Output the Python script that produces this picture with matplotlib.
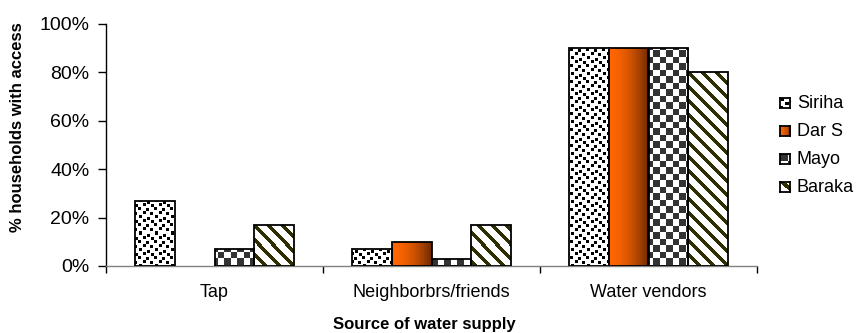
import numpy as np
import matplotlib
matplotlib.use("Agg")
import matplotlib.pyplot as plt
from matplotlib.colors import to_rgb

# ---- data -------------------------------------------------------------
categories = ["Tap", "Neighborbrs/friends", "Water vendors"]
series_names = ["Siriha", "Dar S", "Mayo", "Baraka"]
siriha = [27, 7, 90]
dar_s = [0, 10, 90]
mayo = [7, 3, 90]
baraka = [17, 17, 80]
y_ticks = [0, 20, 40, 60, 80, 100]
y_tick_labels = ["0%", "20%", "40%", "60%", "80%", "100%"]

values = [siriha, dar_s, mayo, baraka]

# ---- figure geometry --------------------------------------------------
W, H = 856, 333
AX_L, AX_R, AX_T, AX_B = 106, 757, 24, 266
fig = plt.figure(figsize=(W / 100, H / 100), dpi=100)
ax = fig.add_axes([AX_L / W, (H - AX_B) / H, (AX_R - AX_L) / W, (AX_B - AX_T) / H])

plt.rcParams["font.family"] = ["Liberation Sans", "DejaVu Sans"]
FONT = "Liberation Sans"
FS = 13

XMIN, XMAX = -0.5, len(categories) - 0.5
YMIN, YMAX = 0, 100
PX_X = (AX_R - AX_L) / (XMAX - XMIN)
PX_Y = (AX_B - AX_T) / (YMAX - YMIN)

WHITE = np.array([1.0, 1.0, 1.0])
BLACK = np.array([0.0, 0.0, 0.0])
DARK_GREY = np.array(to_rgb("#333333"))
OLIVE = np.array(to_rgb("#2e2e00"))
ORANGE = np.array(to_rgb("#ff6600"))
BROWN = np.array(to_rgb("#6e2a00"))

# confetti tile: top-left corners of 3x3 dots in a 16x16 cell
CONFETTI = [(0, 1), (2, 9), (4, 5), (5, 13), (8, 0), (9, 8), (12, 5), (13, 12)]


# ---- fill textures (rows, cols are pixel grids) -----------------------
def tex_dots(rows, cols):
    tile = np.zeros((16, 16), dtype=bool)
    for r, c in CONFETTI:
        for dr in range(3):
            for dc in range(3):
                tile[(r + dr) % 16, (c + dc) % 16] = True
    mask = tile[rows % 16, cols % 16]
    return np.where(mask[..., None], BLACK, WHITE)


def tex_gradient(rows, cols):
    c0, c1 = cols.min(), cols.max()
    t = (cols - c0) / max(c1 - c0, 1)
    t = np.clip(t, 0, 1) ** 1.8
    return ORANGE * (1 - t[..., None]) + BROWN * t[..., None]


def tex_checker(rows, cols):
    size = 6.5
    mask = ((np.floor(rows / size) + np.floor(cols / size)) % 2) == 0
    return np.where(mask[..., None], DARK_GREY, WHITE)


def tex_stripes(rows, cols):
    mask = ((cols - rows) % 14) < 5
    return np.where(mask[..., None], OLIVE, WHITE)


textures = [tex_dots, tex_gradient, tex_checker, tex_stripes]

# ---- bars -------------------------------------------------------------
x = np.arange(len(categories))
bar_w = 0.184
offsets = (np.arange(len(series_names)) - (len(series_names) - 1) / 2) * bar_w

for vals, off, tex, name in zip(values, offsets, textures, series_names):
    bars = ax.bar(x + off, vals, width=bar_w, facecolor="none",
                  edgecolor="black", linewidth=1.3, zorder=3, label=name)
    for rect, v in zip(bars, vals):
        if v <= 0:
            rect.set_linewidth(0)
            continue
        x0, w, h = rect.get_x(), rect.get_width(), rect.get_height()
        col0 = int(round((x0 - XMIN) * PX_X))
        ncol = max(int(round(w * PX_X)), 1)
        row0 = int(round((YMAX - h) * PX_Y))
        nrow = max(int(round(h * PX_Y)), 1)
        rr, cc = np.meshgrid(np.arange(row0, row0 + nrow),
                             np.arange(col0, col0 + ncol), indexing="ij")
        img = tex(rr, cc)
        im = ax.imshow(img, extent=(x0, x0 + w, 0, h), origin="upper",
                       aspect="auto", interpolation="nearest", zorder=2)
        im.set_clip_path(rect)

ax.set_xlim(XMIN, XMAX)
ax.set_ylim(YMIN, YMAX)

# ---- axes styling -----------------------------------------------------
for s in ["top", "right"]:
    ax.spines[s].set_visible(False)
ax.spines["left"].set_color("black")
ax.spines["left"].set_linewidth(1.0)
ax.spines["bottom"].set_color("#808080")
ax.spines["bottom"].set_linewidth(1.0)

ax.set_yticks(y_ticks)
ax.set_yticklabels(y_tick_labels, fontsize=14, fontfamily=FONT)
ax.tick_params(axis="y", direction="out", length=6, width=1.0,
               color="black", pad=6)

ax.set_xticks(x)
ax.set_xticklabels(categories, fontsize=FS, fontfamily=FONT)
ax.set_xticks(np.arange(XMIN, XMAX + 0.01, 1.0), minor=True)
ax.tick_params(axis="x", which="major", length=0, pad=13)
ax.tick_params(axis="x", which="minor", direction="out", length=5,
               width=1.0, color="black")

ax.set_ylabel("% households with access", fontsize=12, fontweight="bold",
              fontfamily=FONT)
ax.yaxis.set_label_coords((18 - AX_L) / (AX_R - AX_L), (AX_B - 127.5) / (AX_B - AX_T))
ax.set_xlabel("Source of water supply", fontsize=12, fontweight="bold",
              fontfamily=FONT)
ax.xaxis.set_label_coords((424 - AX_L) / (AX_R - AX_L), (AX_B - 324) / (AX_B - AX_T))
ax.xaxis.label.set_va("center")
ax.yaxis.label.set_va("center")

# ---- legend -----------------------------------------------------------
leg_y = [103, 131, 159, 187]
ICON = 10
for name, tex, yc in zip(series_names, textures, leg_y):
    iax = fig.add_axes([780 / W, (H - yc - ICON / 2) / H, ICON / W, ICON / H])
    rr, cc = np.meshgrid(np.arange(ICON), np.arange(ICON), indexing="ij")
    iax.imshow(tex(rr, cc), interpolation="nearest", aspect="auto")
    iax.set_xticks([])
    iax.set_yticks([])
    for sp in iax.spines.values():
        sp.set_color("black")
        sp.set_linewidth(1.3)
    fig.text(797 / W, (H - yc) / H, name, fontsize=FS, fontfamily=FONT,
             va="center", ha="left")

fig.savefig("out.png", dpi=100)
